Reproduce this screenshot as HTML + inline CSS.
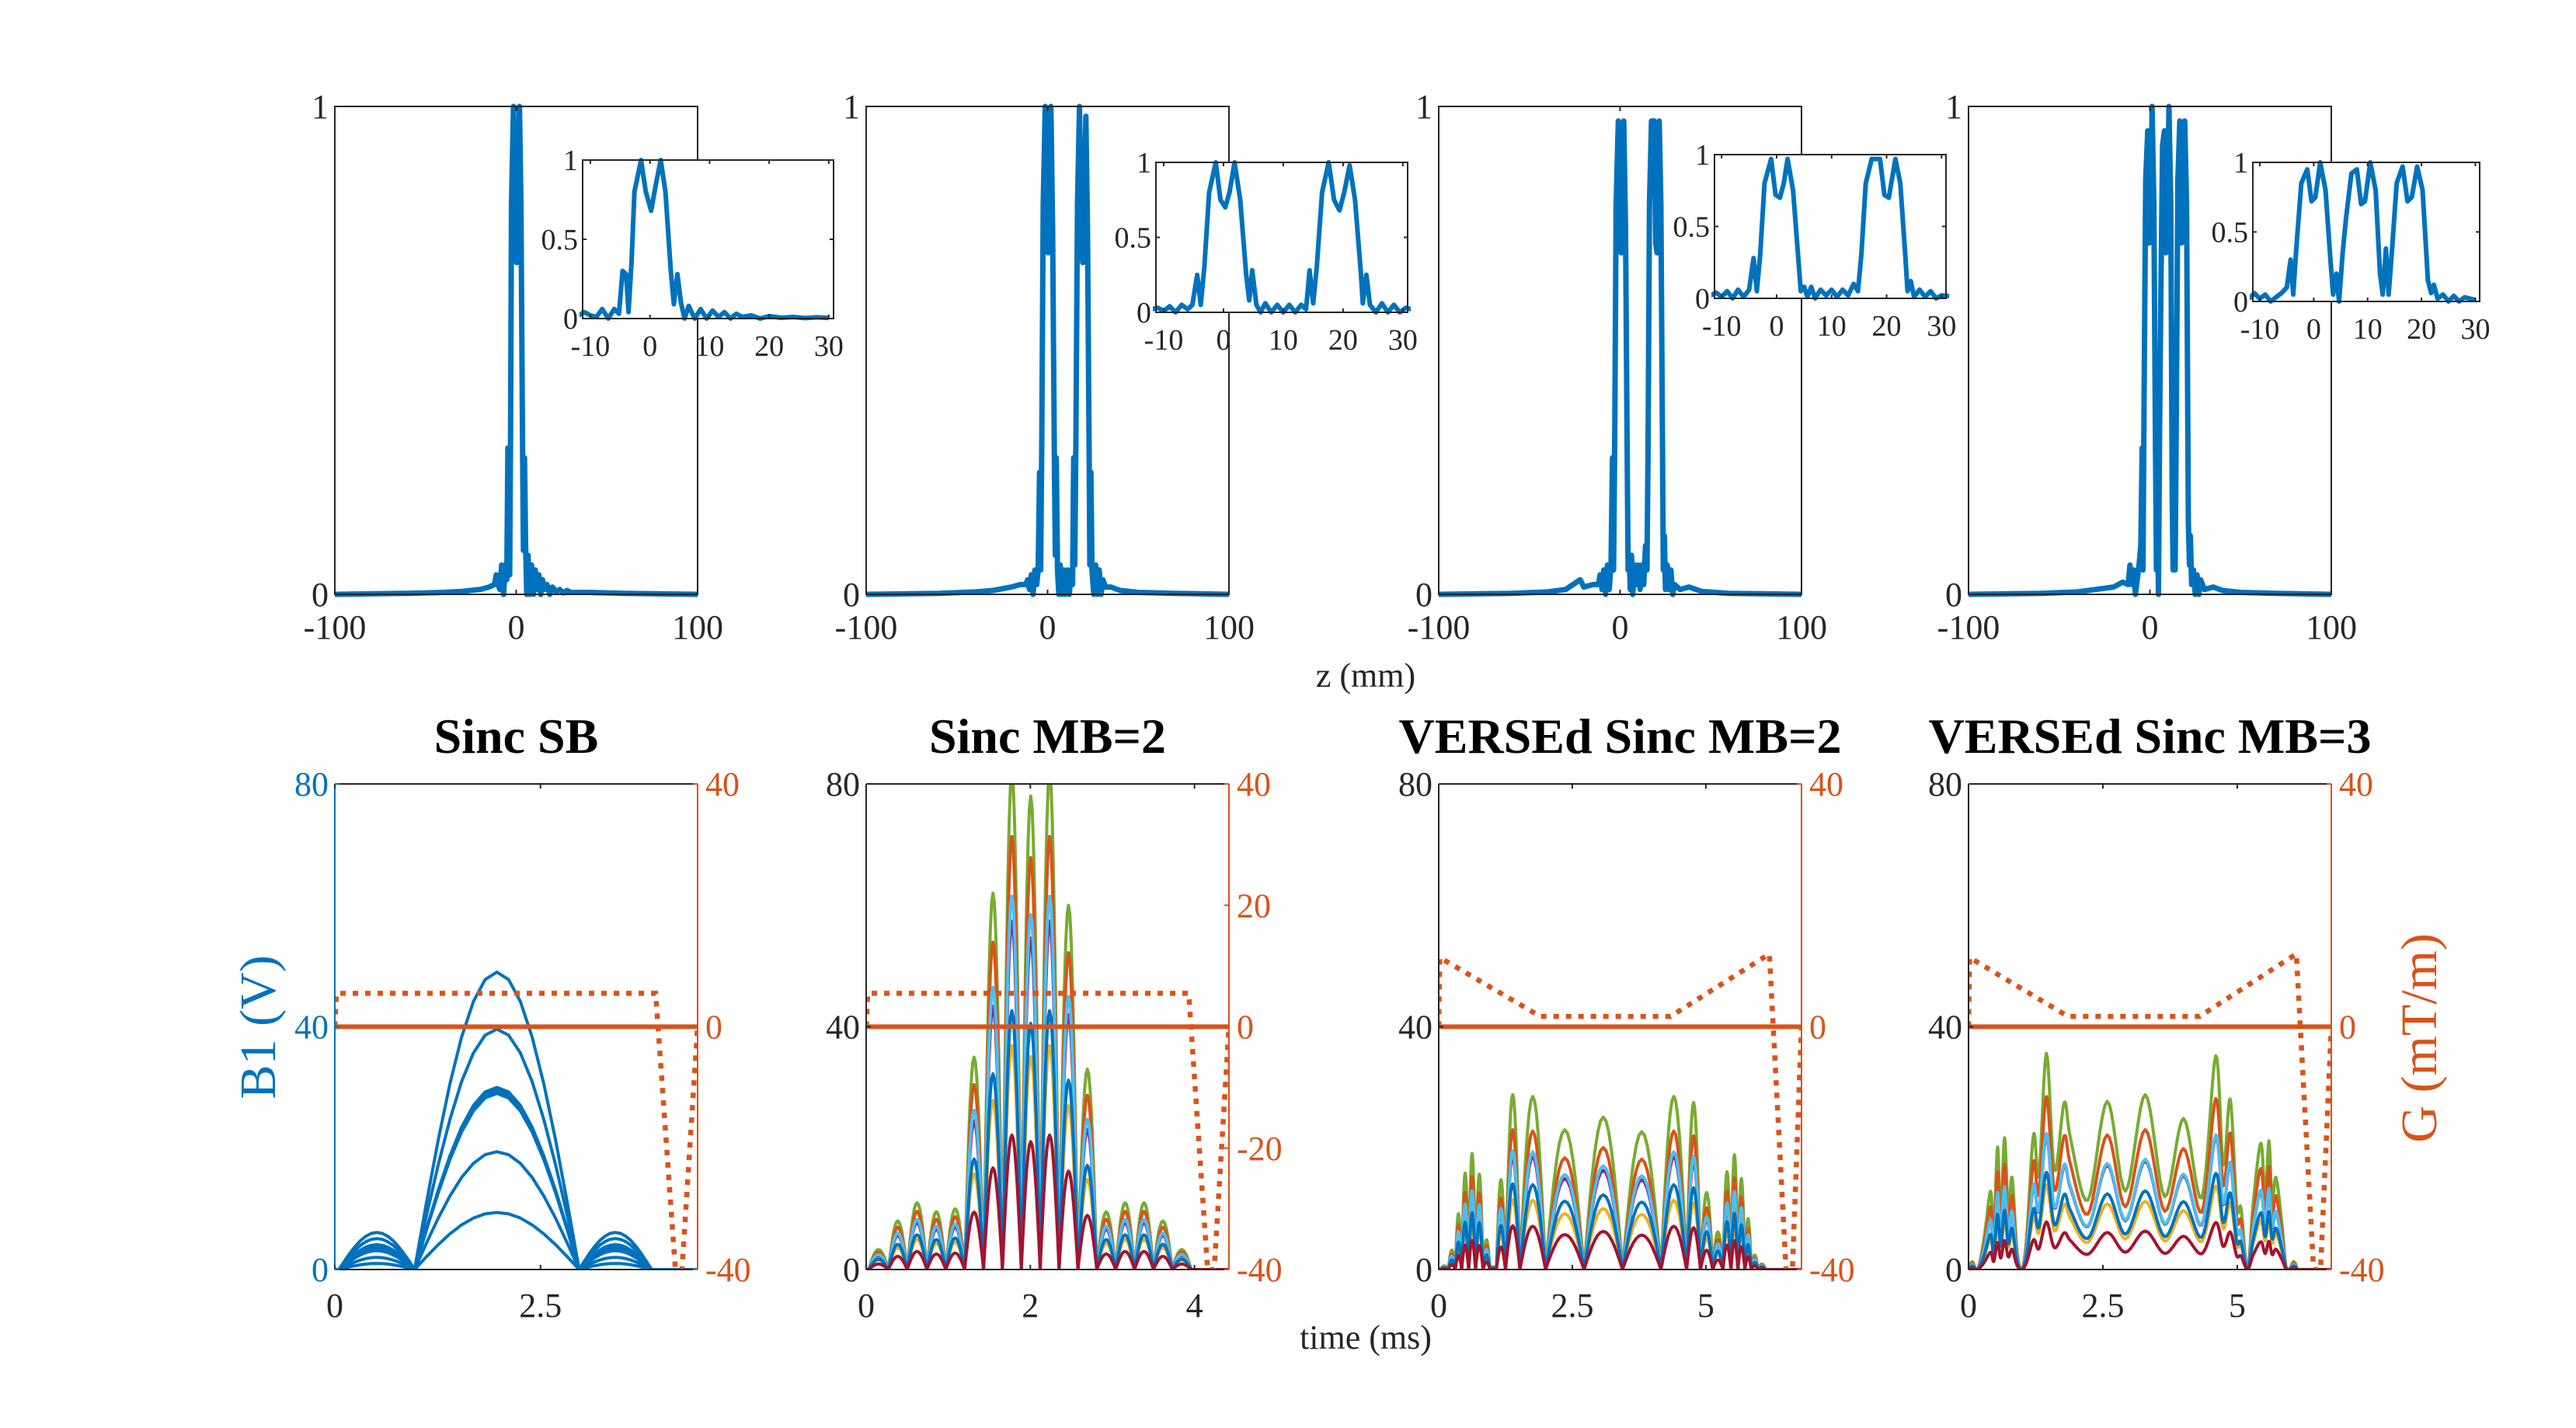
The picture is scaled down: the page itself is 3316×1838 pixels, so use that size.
<!DOCTYPE html>
<html><head><meta charset="utf-8"><title>RF pulse profiles</title>
<style>html,body{margin:0;padding:0;background:#fff}svg{display:block}text{font-family:"Liberation Serif","Times New Roman",serif}</style>
</head><body>
<svg id="fig" width="3316" height="1838" viewBox="0 0 3316 1838" xmlns="http://www.w3.org/2000/svg">
<rect x="0" y="0" width="3316" height="1838" fill="#ffffff"/>
</svg>
<script>
// ---------- DATA: slice profiles (z in mm, normalized magnitude) ----------
const profSB = [[-100,0],[-60,0.002],[-40,0.004],[-30,0.006],[-20,0.01],[-15,0.015],[-12,0.02],[-11,0.04],[-10,0.02],[-9,0.01],[-8,0.06],[-7,0.0],[-6,0.06],[-5.2,0.03],[-4.6,0.3],[-4,0.28],[-3.6,0.04],[-3.1,0.35],[-2.6,0.8],[-1.5,1.0],[-0.7,0.8],[0.2,0.68],[1,0.85],[1.8,1.0],[2.6,0.8],[3.5,0.3],[4,0.09],[4.6,0.28],[5.2,0.1],[5.8,0.0],[6.5,0.08],[7.5,0.0],[8.5,0.06],[9.5,0.0],[10.5,0.05],[11.5,0.01],[12.5,0.04],[13.5,0.0],[14.5,0.03],[15.5,0.01],[17,0.02],[18.5,0.0],[20,0.015],[22,0.005],[24,0.01],[26,0.003],[28,0.008],[30,0.004],[40,0.004],[60,0.002],[100,0]];
const profMB2 = [[-100,0],[-60,0.002],[-40,0.005],[-30,0.008],[-20,0.015],[-15,0.02],[-12,0.02],[-11,0.03],[-10,0.01],[-9,0.04],[-8,0],[-7,0.05],[-6,0.02],[-5.2,0.05],[-4.4,0.25],[-3.8,0.05],[-3.2,0.3],[-2.4,0.8],[-1.3,1.0],[-0.5,0.75],[0.3,0.7],[1,0.8],[1.85,1.0],[2.8,0.75],[3.8,0.25],[4.3,0.08],[4.8,0.28],[5.5,0.05],[6.2,0],[7,0.06],[8,0],[9,0.05],[10,0],[11,0.05],[12,0],[13,0.05],[13.8,0.02],[14.4,0.28],[15,0.06],[15.6,0.3],[16.5,0.8],[17.6,1.0],[18.5,0.75],[19.4,0.68],[20.2,0.8],[21.1,0.98],[22,0.75],[23,0.25],[23.3,0.06],[23.9,0.25],[24.5,0.05],[25.5,0],[26.5,0.06],[27.5,0],[28.5,0.05],[29.5,0],[30.5,0.03],[32,0.015],[35,0.015],[40,0.008],[50,0.004],[70,0.002],[100,0]];
const profVMB2 = [[-100,0],[-60,0.002],[-40,0.005],[-30,0.01],[-22,0.03],[-20,0.015],[-15,0.02],[-12,0.02],[-11,0.04],[-10,0.01],[-9,0.05],[-8,0],[-7,0.06],[-6,0.01],[-5,0.06],[-4.2,0.28],[-3.6,0.05],[-3,0.3],[-2.2,0.8],[-1,0.97],[-0.2,0.72],[0.6,0.7],[1.3,0.8],[2,0.97],[3,0.75],[4,0.25],[4.4,0.05],[5,0.08],[5.6,0.01],[6.3,0.08],[7,0],[8,0.06],[9,0.02],[10,0.06],[11,0.01],[12,0.06],[13,0.02],[14,0.1],[14.8,0.05],[15.4,0.3],[16.2,0.8],[17.3,0.97],[18.8,0.97],[19.6,0.72],[20.4,0.7],[21.6,0.97],[22.5,0.8],[23.4,0.3],[23.8,0.05],[24.4,0.12],[25,0.01],[26,0.06],[27,0.01],[28,0.05],[29,0.0],[30,0.02],[33,0.01],[38,0.015],[45,0.006],[60,0.002],[100,0]];
const profMB3 = [[-100,0],[-60,0.002],[-40,0.005],[-30,0.01],[-20,0.015],[-15,0.025],[-12,0.02],[-11,0.06],[-10,0.02],[-9,0.05],[-8,0],[-7,0.03],[-6,0.06],[-5,0.1],[-4.3,0.3],[-3.8,0.05],[-3.2,0.4],[-2.3,0.85],[-1.2,0.95],[-0.4,0.72],[0.3,0.75],[1.2,1.0],[2.2,0.8],[3.1,0.3],[3.6,0.05],[4.2,0.2],[4.7,0.0],[5.4,0.36],[6,0.6],[7,0.92],[8,0.95],[8.8,0.7],[9.5,0.72],[10.5,1.0],[11.5,0.8],[12.3,0.2],[12.8,0.05],[13.4,0.38],[13.9,0.05],[14.5,0.35],[15.4,0.85],[16.5,0.97],[17.4,0.72],[18.2,0.75],[19.2,0.97],[20.2,0.8],[21.2,0.15],[21.8,0.06],[22.3,0.12],[23,0.02],[24,0.05],[25,0],[26,0.04],[27,0],[28,0.03],[30,0.01],[35,0.015],[40,0.008],[50,0.004],[70,0.002],[100,0]];
const profiles = [profSB, profMB2, profVMB2, profMB3];
const mainXTicks = [-100, 0, 100];
const mainYTicks = [0, 1];
const insetXTicks = [-10, 0, 10, 20, 30];
const insetYTicks = [0, 0.5, 1];
const insetYLabels = ['0', '0.5', '1'];

// ---------- DATA: RF pulses (B1 in V, time in ms) ----------
const titles = ['Sinc SB', 'Sinc MB=2', 'VERSEd Sinc MB=2', 'VERSEd Sinc MB=3'];
const sbEdges = [0.05, 0.97, 2.97, 3.85];
const sbPeaks = [[6.1,49,6.1],[5.1,39.6,5.1],[4.1,30,4.1],[3.6,29.5,3.6],[3.1,29,3.1],[2,19.4,2],[1,9.4,1]];
const mb2Edges = [0.03,0.27,0.5,0.74,0.97,1.2,1.43,1.66,1.89,2.12,2.35,2.58,2.81,3.04,3.27,3.5,3.73,3.96];
const mb2Peaks = [3.3,8,11,9.5,10,35,62,82,78,82,60,33,9.5,11,11,8,3.3];
const mb2Scale = [1, 0.87, 0.45, 0.70, 0.75, 0.52, 0.27];
const vmb2Edges = [0.03,0.18,0.31,0.43,0.56,0.69,0.83,0.96,1.08,1.25,1.52,2.0,2.72,3.44,4.16,4.64,4.9,5.13,5.32,5.47,5.6,5.73,5.85,5.98,6.12];
const vmb2Peaks = [0.6,3.2,9.2,15.9,19.1,15.7,4.9,0.5,14.8,28.8,28.5,23,25.1,22.7,28.5,27.5,12.7,6.2,16.1,18.9,15,8.4,2.4,0.9];
const vmb2Scale = [1, 0.80, 0.40, 0.65, 0.68, 0.49, 0.25];
const vmb3T = [0,0.07,0.17,0.29,0.41,0.47,0.54,0.6,0.67,0.74,0.81,0.9,0.99,1.08,1.21,1.31,1.45,1.6,1.78,1.9,2.22,2.58,2.92,3.29,3.65,4.0,4.34,4.6,4.74,4.87,4.99,5.07,5.19,5.3,5.44,5.52,5.59,5.65,5.72,5.83,5.92,6.05,6.12];
const vmb3V = [0,1.3,0,5.2,12.9,6,20.2,8.6,21.7,9.4,15.2,3.4,0,5.2,22.3,15.5,35.6,16.3,27.5,21.5,11.4,27.7,12.9,28.8,12,24.9,11.8,35.2,17.2,28.1,10.3,10.1,0,11.2,20.8,12,21.2,11.2,15.2,7.7,0,1.3,0];
const vmb3Scale = [1, 0.80, 0.39, 0.62, 0.63, 0.45, 0.22];
const curveColors = ['#77AC30','#D95319','#EDB120','#7E2F8E','#4DBEEE','#0072BD','#A2142F'];
const curveNames = ['green','orange','yellow','purple','light-blue','blue','dark-red'];
const gradT = [[0,0.02,3.9,4.14,4.22,4.41],[0,0.02,3.93,4.16,4.24,4.42],[0,0.02,1.9,4.34,6.19,6.5,6.62,6.79],[0,0.02,1.85,4.3,6.1,6.42,6.55,6.75]];
const gradV = [[0,5.5,5.5,-40,-40,0],[0,5.5,5.5,-40,-40,0],[0,11.4,1.7,1.7,12,-40,-40,0],[0,11.4,1.7,1.7,12,-40,-40,0]];
const xMaxB = [4.41, 4.42, 6.79, 6.75];
const bXTicks = [[0,2.5],[0,2,4],[0,2.5,5],[0,2.5,5]];
const bXLabels = [['0','2.5'],['0','2','4'],['0','2.5','5'],['0','2.5','5']];
const b1Ticks = [0, 40, 80];
const gTicks = [[-40,0,40],[-40,-20,0,20,40],[-40,0,40],[-40,0,40]];

// ---------- layout ----------
const NS = 'http://www.w3.org/2000/svg';
const svg = document.getElementById('fig');
const lefts = [431, 1115, 1852, 2534];
const PW = 467;
const TT = 137, TB = 765;
const insets = [[750,206,1073,410],[1488,209,1812,402],[2207,199,2505,384],[2900,209,3192,388]];
const IX0 = -11.3, IX1 = 30.8;
const BT = 1009, BB = 1634;
const AX = '#262626', BLUE = '#0072BD', ORANGE = '#D95319';

function mk(tag, attrs, parent) {
  const e = document.createElementNS(NS, tag);
  for (const k in attrs) e.setAttribute(k, attrs[k]);
  (parent || svg).appendChild(e);
  return e;
}
function txt(str, x, y, size, anchor, color, parent, weight) {
  const t = mk('text', {x: x, y: y, 'font-size': size, 'text-anchor': anchor, fill: color, 'font-weight': weight || 'normal'}, parent);
  t.textContent = str;
  return t;
}
function lin(a0, a1, p0, p1) { return v => p0 + (v - a0) / (a1 - a0) * (p1 - p0); }

// ---------- top row ----------
for (let i = 0; i < 4; i++) {
  const L = lefts[i], R = L + PW;
  const g = mk('g', {});
  
  
  const sx = lin(-100, 100, L, R), sy = lin(0, 1, TB, TT);
  const cp = mk('clipPath', {id: 'cpt' + i}, g);
  mk('rect', {x: L - 4, y: TT - 6, width: PW + 8, height: TB - TT + 12}, cp);
  const pl = mk('polyline', {points: profiles[i].map(p => sx(p[0]).toFixed(1) + ',' + sy(p[1]).toFixed(1)).join(' '), fill: 'none', stroke: BLUE, 'stroke-width': 7, 'stroke-linejoin': 'round', 'clip-path': 'url(#cpt' + i + ')'}, g);
  
  
  const box = mk('rect', {x: L, y: TT, width: PW, height: TB - TT, fill: 'none', stroke: AX, 'stroke-width': 2}, g);
  
  
  mainXTicks.forEach(v => {
    mk('line', {x1: sx(v), y1: TB, x2: sx(v), y2: TB - 6, stroke: AX, 'stroke-width': 2}, g);
    mk('line', {x1: sx(v), y1: TT, x2: sx(v), y2: TT + 6, stroke: AX, 'stroke-width': 2}, g);
    const t = txt(String(v), sx(v), 822, 44, 'middle', AX, g);
    
    
  });
  mainYTicks.forEach(v => {
    const t = txt(String(v), L - 8, sy(v) + 15, 44, 'end', AX, g);
    
    
  });
  const [iL, iT, iR, iB] = insets[i];
  const ig = mk('g', {}, g);
  
  
  const ix = lin(IX0, IX1, iL, iR), iy = lin(0, 1, iB, iT);
  mk('rect', {x: iL, y: iT, width: iR - iL, height: iB - iT, fill: '#fff'}, ig);
  const cpi = mk('clipPath', {id: 'cpi' + i}, ig);
  mk('rect', {x: iL - 4, y: iT - 6, width: iR - iL + 8, height: iB - iT + 12}, cpi);
  const ipl = mk('polyline', {points: profiles[i].filter(p => p[0] >= -14 && p[0] <= 34).map(p => ix(p[0]).toFixed(1) + ',' + iy(p[1]).toFixed(1)).join(' '), fill: 'none', stroke: BLUE, 'stroke-width': 6, 'stroke-linejoin': 'round', 'clip-path': 'url(#cpi' + i + ')'}, ig);
  
  
  mk('rect', {x: iL, y: iT, width: iR - iL, height: iB - iT, fill: 'none', stroke: AX, 'stroke-width': 2}, ig);
  insetXTicks.forEach(v => {
    mk('line', {x1: ix(v), y1: iB, x2: ix(v), y2: iB - 5, stroke: AX, 'stroke-width': 2}, ig);
    mk('line', {x1: ix(v), y1: iT, x2: ix(v), y2: iT + 5, stroke: AX, 'stroke-width': 2}, ig);
    const t = txt(String(v), ix(v), iB + 48, 38, 'middle', AX, ig);
    
    
  });
  insetYTicks.forEach((v, k) => {
    mk('line', {x1: iL, y1: iy(v), x2: iL + 5, y2: iy(v), stroke: AX, 'stroke-width': 2}, ig);
    mk('line', {x1: iR, y1: iy(v), x2: iR - 5, y2: iy(v), stroke: AX, 'stroke-width': 2}, ig);
    const t = txt(insetYLabels[k], iL - 6, iy(v) + 13, 38, 'end', AX, ig);
    
    
  });
}
const zl = txt('z (mm)', 1758, 884, 44, 'middle', AX);



// ---------- bottom row ----------
function lobePts(edges, peaks, sx, sy, xmax) {
  const pts = [[sx(0), sy(0)]];
  for (let j = 0; j < peaks.length; j++) {
    const a = edges[j], b = edges[j + 1], N = 14;
    for (let k = 0; k <= N; k++) {
      const t = a + (b - a) * k / N;
      pts.push([sx(t), sy(peaks[j] * Math.sin(Math.PI * k / N))]);
    }
  }
  pts.push([sx(xmax), sy(0)]);
  return pts;
}
function splinePts(T, V, scale, sx, sy, xmax) {
  const pts = [];
  const n = T.length;
  for (let j = 0; j < n - 1; j++) {
    const p0 = j > 0 ? j - 1 : j, p3 = j + 2 < n ? j + 2 : j + 1;
    for (let k = 0; k < 8; k++) {
      const u = k / 8;
      const cr = (a, b, c, d) => 0.5 * ((2 * b) + (-a + c) * u + (2 * a - 5 * b + 4 * c - d) * u * u + (-a + 3 * b - 3 * c + d) * u * u * u);
      const t = cr(T[p0], T[j], T[j + 1], T[p3]);
      const v = Math.max(0, cr(V[p0], V[j], V[j + 1], V[p3])) * scale;
      pts.push([sx(t), sy(v)]);
    }
  }
  pts.push([sx(T[n - 1]), sy(0)]);
  pts.push([sx(xmax), sy(0)]);
  return pts;
}
const toStr = pts => pts.map(p => p[0].toFixed(1) + ',' + p[1].toFixed(1)).join(' ');

for (let i = 0; i < 4; i++) {
  const L = lefts[i], R = L + PW;
  const g = mk('g', {});
  
  
  const sx = lin(0, xMaxB[i], L, R), sy = lin(0, 80, BB, BT), gy = lin(-40, 40, BB, BT);
  const cp = mk('clipPath', {id: 'cpb' + i}, g);
  mk('rect', {x: L, y: BT, width: PW, height: BB - BT}, cp);
  const cg = mk('g', {'clip-path': 'url(#cpb' + i + ')'}, g);
  if (i === 0) {
    sbPeaks.forEach((pk, c) => {
      const p = mk('polyline', {points: toStr(lobePts(sbEdges, pk, sx, sy, xMaxB[i])), fill: 'none', stroke: BLUE, 'stroke-width': 4, 'stroke-linejoin': 'round'}, cg);
      
      
    });
  } else {
    for (let c = 0; c < 7; c++) {
      let pts;
      if (i === 1) pts = lobePts(mb2Edges, mb2Peaks.map(v => v * mb2Scale[c]), sx, sy, xMaxB[i]);
      else if (i === 2) pts = lobePts(vmb2Edges, vmb2Peaks.map(v => v * vmb2Scale[c]), sx, sy, xMaxB[i]);
      else pts = splinePts(vmb3T, vmb3V, vmb3Scale[c], sx, sy, xMaxB[i]);
      const p = mk('polyline', {points: toStr(pts), fill: 'none', stroke: curveColors[c], 'stroke-width': 4, 'stroke-linejoin': 'round'}, cg);
      
      
    }
  }
  const gs = mk('line', {x1: L, y1: gy(0), x2: R, y2: gy(0), stroke: ORANGE, 'stroke-width': 6}, cg);
  
  
  const gd = mk('polyline', {points: gradT[i].map((t, k) => sx(t).toFixed(1) + ',' + gy(gradV[i][k]).toFixed(1)).join(' '), fill: 'none', stroke: ORANGE, 'stroke-width': 6.5, 'stroke-dasharray': '7 9'}, cg);
  
  
  const lc = i === 0 ? BLUE : AX;
  mk('line', {x1: L, y1: BT, x2: R, y2: BT, stroke: AX, 'stroke-width': 2}, g);
  mk('line', {x1: L, y1: BB, x2: R, y2: BB, stroke: AX, 'stroke-width': 2}, g);
  const la = mk('line', {x1: L, y1: BT, x2: L, y2: BB, stroke: lc, 'stroke-width': 2}, g);
  
  
  const ra = mk('line', {x1: R, y1: BT, x2: R, y2: BB, stroke: ORANGE, 'stroke-width': 2}, g);
  
  
  bXTicks[i].forEach((v, k) => {
    mk('line', {x1: sx(v), y1: BB, x2: sx(v), y2: BB - 6, stroke: AX, 'stroke-width': 2}, g);
    mk('line', {x1: sx(v), y1: BT, x2: sx(v), y2: BT + 6, stroke: AX, 'stroke-width': 2}, g);
    const t = txt(bXLabels[i][k], sx(v), 1695, 44, 'middle', AX, g);
    
    
  });
  b1Ticks.forEach(v => {
    mk('line', {x1: L, y1: sy(v), x2: L + 6, y2: sy(v), stroke: lc, 'stroke-width': 2}, g);
    const t = txt(String(v), L - 8, sy(v) + 15, 44, 'end', lc, g);
    
    
  });
  gTicks[i].forEach(v => {
    mk('line', {x1: R, y1: gy(v), x2: R - 6, y2: gy(v), stroke: ORANGE, 'stroke-width': 2}, g);
    const t = txt(String(v), R + 10, gy(v) + 15, 44, 'start', ORANGE, g);
    
    
  });
  const tt = txt(titles[i], L + PW / 2, 969, 64, 'middle', '#000', g, 'bold');
  
  
}
const tl = txt('time (ms)', 1758, 1736, 44, 'middle', AX);


const b1l = txt('B1 (V)', 0, 0, 66, 'middle', BLUE);
b1l.setAttribute('transform', 'translate(354,1322) rotate(-90)');


const gl = txt('G (mT/m)', 0, 0, 66, 'middle', ORANGE);
gl.setAttribute('transform', 'translate(3136,1336) rotate(-90)');


</script>
</body></html>
